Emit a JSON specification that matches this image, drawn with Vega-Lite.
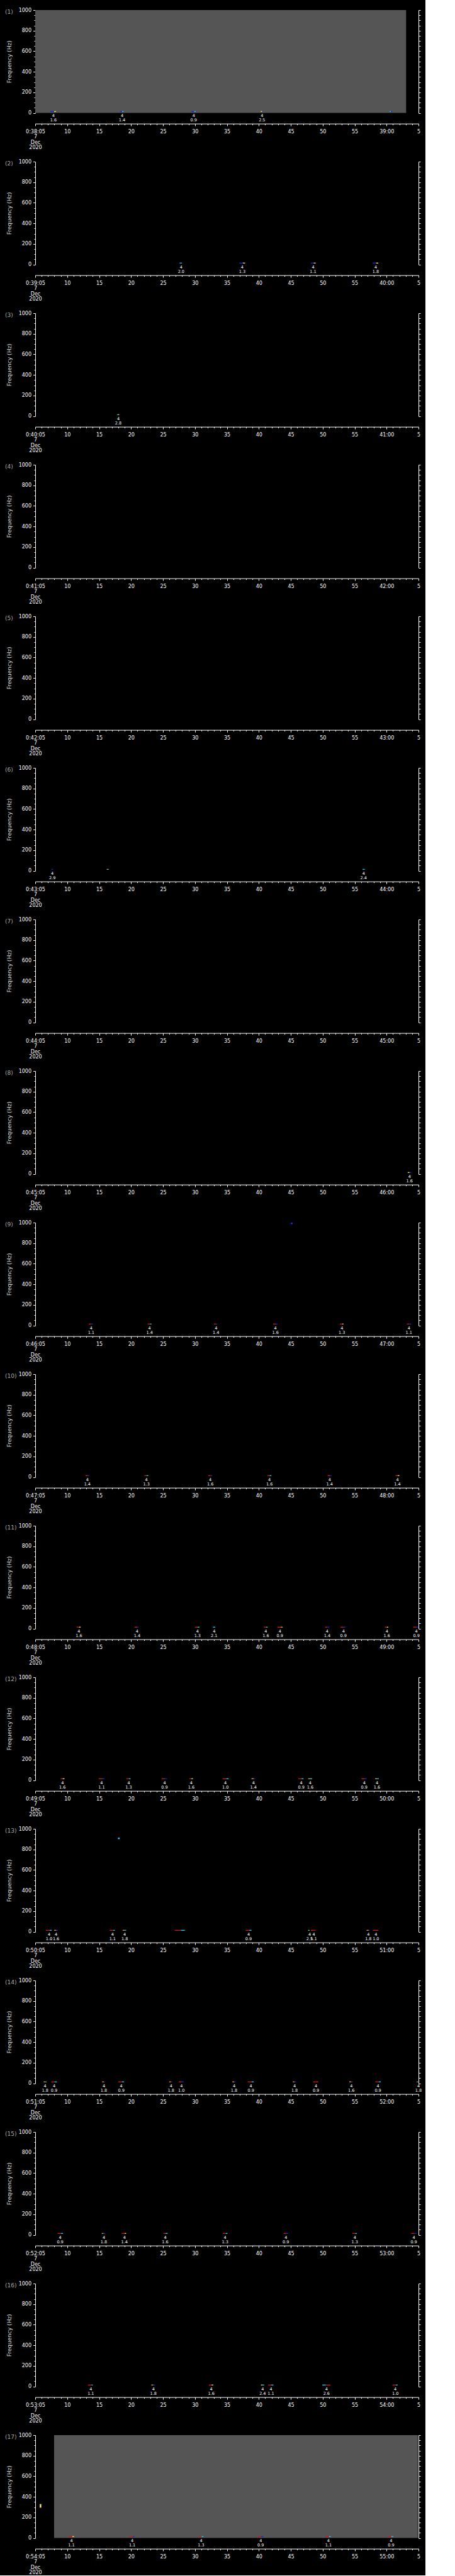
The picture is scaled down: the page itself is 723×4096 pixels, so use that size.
{
"$schema": "https://vega.github.io/schema/vega-lite/v6.json",
"background": "#000000",
"padding": {"left": 8, "top": 12, "right": 5, "bottom": 0},
"spacing": 77,
"bounds": "flush",
"datasets": {
"bg": [{"p":1,"s":5,"e":63.06},{"p":17,"s":7.95,"e":64.9}],
"spk": [{"p":9,"s":45.0,"e":45.3,"f0":985,"f1":1000,"a":"b"},{"p":13,"s":17.95,"e":18.2,"f0":900,"f1":915,"a":"c"},{"p":17,"s":5.7,"e":5.95,"f0":295,"f1":330,"a":"y"}],
"ev": [
{"p":1,"t":7.85,"s":7.36,"m":7.95,"e":8.26,"a":"b","b":"y","n":4,"v":1.6},
{"p":1,"t":18.6,"s":18.28,"m":18.6,"e":18.82,"a":"b","b":"c","n":4,"v":1.4},
{"p":1,"t":29.8,"s":29.47,"m":29.9,"e":30.1,"a":"b","b":"c","n":4,"v":0.9},
{"p":1,"t":40.5,"s":40.3,"m":40.55,"e":40.66,"a":"y","b":"b","n":4,"v":2.5},
{"p":1,"t":60.7,"s":60.5,"m":60.7,"e":60.9,"a":"c","b":"b","n":null,"v":null},
{"p":2,"t":27.84,"s":27.6,"m":27.8,"e":27.97,"a":"c","b":"c","n":4,"v":2.0},
{"p":2,"t":37.4,"s":36.94,"m":37.5,"e":37.85,"a":"b","b":"y","n":4,"v":1.3},
{"p":2,"t":48.5,"s":48.14,"m":48.6,"e":48.9,"a":"b","b":"y","n":4,"v":1.1},
{"p":2,"t":58.3,"s":57.79,"m":58.35,"e":58.7,"a":"b","b":"y","n":4,"v":1.8},
{"p":3,"t":18.0,"s":17.82,"m":18.0,"e":18.14,"a":"c","b":"y","n":4,"v":2.8},
{"p":6,"t":7.67,"s":7.54,"m":7.7,"e":7.81,"a":"b","b":"b","n":4,"v":2.9},
{"p":6,"t":16.35,"s":16.19,"m":16.35,"e":16.51,"a":"g","b":"c","n":null,"v":null},
{"p":6,"t":56.4,"s":56.25,"m":56.45,"e":56.6,"a":"c","b":"c","n":4,"v":2.4},
{"p":8,"t":63.6,"s":63.31,"m":63.6,"e":63.85,"a":"y","b":"b","n":4,"v":1.6},
{"p":9,"t":13.75,"s":13.38,"m":13.8,"e":14.02,"a":"r","b":"b","n":4,"v":1.1},
{"p":9,"t":22.9,"s":22.58,"m":22.95,"e":23.2,"a":"r","b":"c","n":4,"v":1.4},
{"p":9,"t":33.3,"s":32.96,"m":33.3,"e":33.5,"a":"r","b":"b","n":4,"v":1.4},
{"p":9,"t":42.6,"s":42.25,"m":42.65,"e":42.93,"a":"r","b":"b","n":4,"v":1.6},
{"p":9,"t":53.0,"s":52.71,"m":53.05,"e":53.26,"a":"r","b":"y","n":4,"v":1.3},
{"p":9,"t":63.5,"s":63.18,"m":63.55,"e":63.86,"a":"r","b":"b","n":4,"v":1.1},
{"p":10,"t":13.16,"s":12.86,"m":13.2,"e":13.44,"a":"r","b":"b","n":4,"v":1.4},
{"p":10,"t":22.4,"s":22.1,"m":22.45,"e":22.7,"a":"r","b":"c","n":4,"v":1.3},
{"p":10,"t":32.4,"s":32.1,"m":32.45,"e":32.7,"a":"r","b":"b","n":4,"v":1.6},
{"p":10,"t":41.66,"s":41.36,"m":41.7,"e":41.96,"a":"r","b":"c","n":4,"v":1.6},
{"p":10,"t":51.08,"s":50.78,"m":51.12,"e":51.38,"a":"r","b":"b","n":4,"v":1.4},
{"p":10,"t":61.7,"s":61.4,"m":61.75,"e":62.0,"a":"r","b":"y","n":4,"v":1.4},
{"p":11,"t":11.84,"s":11.48,"m":11.85,"e":12.11,"a":"r","b":"y","n":4,"v":1.6},
{"p":11,"t":20.95,"s":20.54,"m":20.95,"e":21.18,"a":"r","b":"b","n":4,"v":1.4},
{"p":11,"t":30.4,"s":30.01,"m":30.4,"e":30.69,"a":"r","b":"c","n":4,"v":1.3},
{"p":11,"t":33.0,"s":32.82,"m":33.0,"e":33.18,"a":"c","b":"c","n":4,"v":2.1},
{"p":11,"t":41.1,"s":40.8,"m":41.15,"e":41.38,"a":"r","b":"c","n":4,"v":1.6},
{"p":11,"t":43.3,"s":42.92,"m":43.4,"e":43.74,"a":"r","b":"o","n":4,"v":0.9},
{"p":11,"t":50.7,"s":50.4,"m":50.75,"e":51.04,"a":"r","b":"b","n":4,"v":1.4},
{"p":11,"t":53.25,"s":52.8,"m":53.3,"e":53.57,"a":"r","b":"b","n":4,"v":0.9},
{"p":11,"t":60.05,"s":59.73,"m":60.05,"e":60.27,"a":"r","b":"y","n":4,"v":1.6},
{"p":11,"t":64.67,"s":64.22,"m":64.7,"e":65.0,"a":"r","b":"b","n":4,"v":0.9},
{"p":12,"t":9.26,"s":8.99,"m":9.3,"e":9.58,"a":"r","b":"y","n":4,"v":1.6},
{"p":12,"t":15.38,"s":14.92,"m":15.5,"e":15.83,"a":"r","b":"b","n":4,"v":1.1},
{"p":12,"t":19.63,"s":19.27,"m":19.65,"e":19.91,"a":"r","b":"c","n":4,"v":1.3},
{"p":12,"t":25.25,"s":24.8,"m":25.3,"e":25.62,"a":"r","b":"b","n":4,"v":0.9},
{"p":12,"t":29.42,"s":29.15,"m":29.45,"e":29.69,"a":"r","b":"y","n":4,"v":1.6},
{"p":12,"t":34.77,"s":34.32,"m":34.9,"e":35.27,"a":"r","b":"c","n":4,"v":1.0},
{"p":12,"t":39.16,"s":38.85,"m":39.2,"e":39.44,"a":"o","b":"b","n":4,"v":1.4},
{"p":12,"t":46.64,"s":46.19,"m":46.7,"e":47.0,"a":"r","b":"c","n":4,"v":0.9},
{"p":12,"t":48.04,"s":47.73,"m":48.05,"e":48.36,"a":"o","b":"c","n":4,"v":1.6},
{"p":12,"t":56.5,"s":56.07,"m":56.6,"e":56.88,"a":"r","b":"b","n":4,"v":0.9},
{"p":12,"t":58.5,"s":58.2,"m":58.5,"e":58.78,"a":"o","b":"c","n":4,"v":1.6},
{"p":13,"t":7.17,"s":6.68,"m":7.25,"e":7.58,"a":"r","b":"c","n":4,"v":1.0},
{"p":13,"t":8.26,"s":7.95,"m":8.3,"e":8.53,"a":"o","b":"b","n":4,"v":1.6},
{"p":13,"t":17.1,"s":16.64,"m":17.2,"e":17.46,"a":"r","b":"c","n":4,"v":1.1},
{"p":13,"t":19.0,"s":18.68,"m":19.0,"e":19.23,"a":"o","b":"c","n":4,"v":1.8},
{"p":13,"t":27.6,"s":26.84,"m":27.8,"e":28.43,"a":"r","b":"c","n":null,"v":null},
{"p":13,"t":38.4,"s":37.94,"m":38.5,"e":38.85,"a":"r","b":"c","n":4,"v":0.9},
{"p":13,"t":47.95,"s":47.73,"m":47.85,"e":47.95,"a":"y","b":"c","n":4,"v":2.5},
{"p":13,"t":48.6,"s":48.14,"m":48.6,"e":48.9,"a":"r","b":"r","n":4,"v":1.1},
{"p":13,"t":57.15,"s":56.88,"m":57.2,"e":57.38,"a":"o","b":"b","n":4,"v":1.8},
{"p":13,"t":58.33,"s":57.88,"m":58.4,"e":58.7,"a":"r","b":"r","n":4,"v":1.0},
{"p":14,"t":6.54,"s":6.31,"m":6.6,"e":6.77,"a":"o","b":"c","n":4,"v":1.8},
{"p":14,"t":7.95,"s":7.49,"m":8.0,"e":8.4,"a":"r","b":"c","n":4,"v":0.9},
{"p":14,"t":15.74,"s":15.47,"m":15.75,"e":15.92,"a":"o","b":"b","n":4,"v":1.8},
{"p":14,"t":18.46,"s":18.0,"m":18.55,"e":18.91,"a":"r","b":"c","n":4,"v":0.9},
{"p":14,"t":26.25,"s":25.98,"m":26.25,"e":26.43,"a":"o","b":"b","n":4,"v":1.8},
{"p":14,"t":27.88,"s":27.47,"m":27.95,"e":28.24,"a":"r","b":"b","n":4,"v":1.0},
{"p":14,"t":36.13,"s":35.86,"m":36.15,"e":36.36,"a":"o","b":"b","n":4,"v":1.8},
{"p":14,"t":38.76,"s":38.26,"m":38.85,"e":39.21,"a":"r","b":"c","n":4,"v":0.9},
{"p":14,"t":45.6,"s":45.33,"m":45.6,"e":45.83,"a":"o","b":"b","n":4,"v":1.8},
{"p":14,"t":48.95,"s":48.5,"m":49.0,"e":49.31,"a":"r","b":"r","n":4,"v":0.9},
{"p":14,"t":54.48,"s":54.16,"m":54.5,"e":54.7,"a":"o","b":"b","n":4,"v":1.6},
{"p":14,"t":58.65,"s":58.24,"m":58.75,"e":59.1,"a":"r","b":"c","n":4,"v":0.9},
{"p":14,"t":65.0,"s":64.72,"m":64.9,"e":65.0,"a":"o","b":"b","n":4,"v":1.8},
{"p":15,"t":8.9,"s":8.49,"m":9.0,"e":9.35,"a":"r","b":"c","n":4,"v":0.9},
{"p":15,"t":15.74,"s":15.42,"m":15.7,"e":15.96,"a":"o","b":"b","n":4,"v":1.8},
{"p":15,"t":18.96,"s":18.55,"m":19.0,"e":19.23,"a":"r","b":"y","n":4,"v":1.4},
{"p":15,"t":25.34,"s":25.07,"m":25.4,"e":25.71,"a":"r","b":"c","n":4,"v":1.6},
{"p":15,"t":34.72,"s":34.36,"m":34.8,"e":35.09,"a":"r","b":"c","n":4,"v":1.3},
{"p":15,"t":44.24,"s":43.88,"m":44.3,"e":44.6,"a":"r","b":"b","n":4,"v":0.9},
{"p":15,"t":55.02,"s":54.66,"m":55.1,"e":55.34,"a":"r","b":"c","n":4,"v":1.3},
{"p":15,"t":64.27,"s":63.86,"m":64.35,"e":64.67,"a":"r","b":"b","n":4,"v":0.9},
{"p":16,"t":13.7,"s":13.25,"m":13.8,"e":14.02,"a":"r","b":"c","n":4,"v":1.1},
{"p":16,"t":23.5,"s":23.17,"m":23.5,"e":23.76,"a":"o","b":"b","n":4,"v":1.8},
{"p":16,"t":32.55,"s":32.19,"m":32.6,"e":32.87,"a":"r","b":"y","n":4,"v":1.6},
{"p":16,"t":40.6,"s":40.34,"m":40.6,"e":40.84,"a":"y","b":"c","n":4,"v":2.4},
{"p":16,"t":41.9,"s":41.47,"m":41.95,"e":42.29,"a":"r","b":"c","n":4,"v":1.1},
{"p":16,"t":50.6,"s":49.95,"m":50.5,"e":51.22,"a":"c","b":"r","n":4,"v":2.6},
{"p":16,"t":61.37,"s":60.91,"m":61.45,"e":61.73,"a":"r","b":"c","n":4,"v":1.0},
{"p":17,"t":10.66,"s":10.21,"m":10.8,"e":11.07,"a":"r","b":"y","n":4,"v":1.1},
{"p":17,"t":20.18,"s":19.77,"m":20.3,"e":20.54,"a":"r","b":"b","n":4,"v":1.1},
{"p":17,"t":30.96,"s":30.6,"m":31.05,"e":31.33,"a":"r","b":"c","n":4,"v":1.3},
{"p":17,"t":40.3,"s":39.8,"m":40.35,"e":40.7,"a":"r","b":"b","n":4,"v":0.9},
{"p":17,"t":50.9,"s":50.45,"m":51.0,"e":51.26,"a":"r","b":"c","n":4,"v":1.1},
{"p":17,"t":60.7,"s":60.19,"m":60.75,"e":61.05,"a":"r","b":"c","n":4,"v":0.9}
]
},
"vconcat": [
{"title": "(1)", "data": {"values": [{}]}, "resolve": {"axis": {"x": "independent", "y": "independent"}}, "layer": [
 {"mark": {"type": "rect", "opacity": 0}, "encoding": {"x": {"datum": 5, "type": "quantitative", "scale": {"domain": [5, 65], "nice": false, "zero": false}, "axis": {"title": null, "offset": 17, "tickCount": 60, "tickSize": {"condition": {"test": "datum.value%5==0", "value": 3.5}, "value": 2}, "labelOverlap": false, "labelFlush": false, "labelPadding": 5, "labelLineHeight": 8.5, "labelExpr": "datum.value==5?['0:38:05','7','Dec','2020']:datum.value==60?'39:00':datum.value==65?'5':datum.value%5==0?datum.label:''"}}, "x2": {"datum": 65}, "y": {"datum": 0, "type": "quantitative", "scale": {"domain": [0, 1000], "nice": false, "zero": false}, "axis": {"title": "Frequency (Hz)", "orient": "left", "tickCount": 20, "format": "d", "tickSize": {"condition": {"test": "datum.value%200==0", "value": 3.5}, "value": 2}, "labelExpr": "datum.value%200==0?datum.label:''", "labelOverlap": false, "labelPadding": 3, "titlePadding": 10}}, "y2": {"datum": 1000}}},
 {"mark": {"type": "rect", "opacity": 0}, "encoding": {"x": {"datum": 5, "type": "quantitative", "axis": null}, "x2": {"datum": 65}, "y": {"datum": 0, "type": "quantitative", "axis": {"title": null, "orient": "right", "tickCount": 20, "labels": false, "labelOpacity": 0, "labelExpr": "''", "tickSize": 3}}, "y2": {"datum": 1000}}},
 {"data": {"name": "bg"}, "transform": [{"filter": "datum.p==1"}], "mark": {"type": "rect", "color": "#555555"}, "encoding": {"x": {"field": "s", "type": "quantitative", "axis": null}, "x2": {"field": "e"}, "y": {"datum": 0, "type": "quantitative", "axis": null}, "y2": {"datum": 1000}}},
 {"data": {"name": "ev"}, "transform": [{"filter": "datum.p==1"}], "layer": [
  {"mark": "rect", "encoding": {"x": {"field": "s", "type": "quantitative", "axis": null}, "x2": {"field": "m"}, "y": {"datum": 10, "type": "quantitative", "axis": null}, "y2": {"datum": 18}, "color": {"field": "a", "type": "nominal", "scale": {"domain": ["b","c","y","r","g","o"], "range": ["#1428e6","#22ccff","#f5e642","#dc1414","#50e070","#f0a020"]}, "legend": null}}},
  {"mark": "rect", "encoding": {"x": {"field": "m", "type": "quantitative", "axis": null}, "x2": {"field": "e"}, "y": {"datum": 10, "type": "quantitative", "axis": null}, "y2": {"datum": 18}, "color": {"field": "b", "type": "nominal", "scale": {"domain": ["b","c","y","r","g","o"], "range": ["#1428e6","#22ccff","#f5e642","#dc1414","#50e070","#f0a020"]}, "legend": null}}},
  {"transform": [{"filter": "isValid(datum.n)"}], "mark": {"type": "text", "dy": 4.3}, "encoding": {"x": {"field": "t", "type": "quantitative", "axis": null}, "y": {"datum": 0, "type": "quantitative", "axis": null}, "text": {"field": "n", "type": "quantitative"}}},
  {"transform": [{"filter": "isValid(datum.v)"}], "mark": {"type": "text", "dy": 11}, "encoding": {"x": {"field": "t", "type": "quantitative", "axis": null}, "y": {"datum": 0, "type": "quantitative", "axis": null}, "text": {"field": "v", "type": "quantitative", "format": ".1f"}}}
 ]}
]},
{"title": "(2)", "data": {"values": [{}]}, "resolve": {"axis": {"x": "independent", "y": "independent"}}, "layer": [
 {"mark": {"type": "rect", "opacity": 0}, "encoding": {"x": {"datum": 5, "type": "quantitative", "scale": {"domain": [5, 65], "nice": false, "zero": false}, "axis": {"title": null, "offset": 17, "tickCount": 60, "tickSize": {"condition": {"test": "datum.value%5==0", "value": 3.5}, "value": 2}, "labelOverlap": false, "labelFlush": false, "labelPadding": 5, "labelLineHeight": 8.5, "labelExpr": "datum.value==5?['0:39:05','7','Dec','2020']:datum.value==60?'40:00':datum.value==65?'5':datum.value%5==0?datum.label:''"}}, "x2": {"datum": 65}, "y": {"datum": 0, "type": "quantitative", "scale": {"domain": [0, 1000], "nice": false, "zero": false}, "axis": {"title": "Frequency (Hz)", "orient": "left", "tickCount": 20, "format": "d", "tickSize": {"condition": {"test": "datum.value%200==0", "value": 3.5}, "value": 2}, "labelExpr": "datum.value%200==0?datum.label:''", "labelOverlap": false, "labelPadding": 3, "titlePadding": 10}}, "y2": {"datum": 1000}}},
 {"mark": {"type": "rect", "opacity": 0}, "encoding": {"x": {"datum": 5, "type": "quantitative", "axis": null}, "x2": {"datum": 65}, "y": {"datum": 0, "type": "quantitative", "axis": {"title": null, "orient": "right", "tickCount": 20, "labels": false, "labelOpacity": 0, "labelExpr": "''", "tickSize": 3}}, "y2": {"datum": 1000}}},
 {"data": {"name": "ev"}, "transform": [{"filter": "datum.p==2"}], "layer": [
  {"mark": "rect", "encoding": {"x": {"field": "s", "type": "quantitative", "axis": null}, "x2": {"field": "m"}, "y": {"datum": 10, "type": "quantitative", "axis": null}, "y2": {"datum": 18}, "color": {"field": "a", "type": "nominal", "scale": {"domain": ["b","c","y","r","g","o"], "range": ["#1428e6","#22ccff","#f5e642","#dc1414","#50e070","#f0a020"]}, "legend": null}}},
  {"mark": "rect", "encoding": {"x": {"field": "m", "type": "quantitative", "axis": null}, "x2": {"field": "e"}, "y": {"datum": 10, "type": "quantitative", "axis": null}, "y2": {"datum": 18}, "color": {"field": "b", "type": "nominal", "scale": {"domain": ["b","c","y","r","g","o"], "range": ["#1428e6","#22ccff","#f5e642","#dc1414","#50e070","#f0a020"]}, "legend": null}}},
  {"transform": [{"filter": "isValid(datum.n)"}], "mark": {"type": "text", "dy": 4.3}, "encoding": {"x": {"field": "t", "type": "quantitative", "axis": null}, "y": {"datum": 0, "type": "quantitative", "axis": null}, "text": {"field": "n", "type": "quantitative"}}},
  {"transform": [{"filter": "isValid(datum.v)"}], "mark": {"type": "text", "dy": 11}, "encoding": {"x": {"field": "t", "type": "quantitative", "axis": null}, "y": {"datum": 0, "type": "quantitative", "axis": null}, "text": {"field": "v", "type": "quantitative", "format": ".1f"}}}
 ]}
]},
{"title": "(3)", "data": {"values": [{}]}, "resolve": {"axis": {"x": "independent", "y": "independent"}}, "layer": [
 {"mark": {"type": "rect", "opacity": 0}, "encoding": {"x": {"datum": 5, "type": "quantitative", "scale": {"domain": [5, 65], "nice": false, "zero": false}, "axis": {"title": null, "offset": 17, "tickCount": 60, "tickSize": {"condition": {"test": "datum.value%5==0", "value": 3.5}, "value": 2}, "labelOverlap": false, "labelFlush": false, "labelPadding": 5, "labelLineHeight": 8.5, "labelExpr": "datum.value==5?['0:40:05','7','Dec','2020']:datum.value==60?'41:00':datum.value==65?'5':datum.value%5==0?datum.label:''"}}, "x2": {"datum": 65}, "y": {"datum": 0, "type": "quantitative", "scale": {"domain": [0, 1000], "nice": false, "zero": false}, "axis": {"title": "Frequency (Hz)", "orient": "left", "tickCount": 20, "format": "d", "tickSize": {"condition": {"test": "datum.value%200==0", "value": 3.5}, "value": 2}, "labelExpr": "datum.value%200==0?datum.label:''", "labelOverlap": false, "labelPadding": 3, "titlePadding": 10}}, "y2": {"datum": 1000}}},
 {"mark": {"type": "rect", "opacity": 0}, "encoding": {"x": {"datum": 5, "type": "quantitative", "axis": null}, "x2": {"datum": 65}, "y": {"datum": 0, "type": "quantitative", "axis": {"title": null, "orient": "right", "tickCount": 20, "labels": false, "labelOpacity": 0, "labelExpr": "''", "tickSize": 3}}, "y2": {"datum": 1000}}},
 {"data": {"name": "ev"}, "transform": [{"filter": "datum.p==3"}], "layer": [
  {"mark": "rect", "encoding": {"x": {"field": "s", "type": "quantitative", "axis": null}, "x2": {"field": "m"}, "y": {"datum": 10, "type": "quantitative", "axis": null}, "y2": {"datum": 18}, "color": {"field": "a", "type": "nominal", "scale": {"domain": ["b","c","y","r","g","o"], "range": ["#1428e6","#22ccff","#f5e642","#dc1414","#50e070","#f0a020"]}, "legend": null}}},
  {"mark": "rect", "encoding": {"x": {"field": "m", "type": "quantitative", "axis": null}, "x2": {"field": "e"}, "y": {"datum": 10, "type": "quantitative", "axis": null}, "y2": {"datum": 18}, "color": {"field": "b", "type": "nominal", "scale": {"domain": ["b","c","y","r","g","o"], "range": ["#1428e6","#22ccff","#f5e642","#dc1414","#50e070","#f0a020"]}, "legend": null}}},
  {"transform": [{"filter": "isValid(datum.n)"}], "mark": {"type": "text", "dy": 4.3}, "encoding": {"x": {"field": "t", "type": "quantitative", "axis": null}, "y": {"datum": 0, "type": "quantitative", "axis": null}, "text": {"field": "n", "type": "quantitative"}}},
  {"transform": [{"filter": "isValid(datum.v)"}], "mark": {"type": "text", "dy": 11}, "encoding": {"x": {"field": "t", "type": "quantitative", "axis": null}, "y": {"datum": 0, "type": "quantitative", "axis": null}, "text": {"field": "v", "type": "quantitative", "format": ".1f"}}}
 ]}
]},
{"title": "(4)", "data": {"values": [{}]}, "resolve": {"axis": {"x": "independent", "y": "independent"}}, "layer": [
 {"mark": {"type": "rect", "opacity": 0}, "encoding": {"x": {"datum": 5, "type": "quantitative", "scale": {"domain": [5, 65], "nice": false, "zero": false}, "axis": {"title": null, "offset": 17, "tickCount": 60, "tickSize": {"condition": {"test": "datum.value%5==0", "value": 3.5}, "value": 2}, "labelOverlap": false, "labelFlush": false, "labelPadding": 5, "labelLineHeight": 8.5, "labelExpr": "datum.value==5?['0:41:05','7','Dec','2020']:datum.value==60?'42:00':datum.value==65?'5':datum.value%5==0?datum.label:''"}}, "x2": {"datum": 65}, "y": {"datum": 0, "type": "quantitative", "scale": {"domain": [0, 1000], "nice": false, "zero": false}, "axis": {"title": "Frequency (Hz)", "orient": "left", "tickCount": 20, "format": "d", "tickSize": {"condition": {"test": "datum.value%200==0", "value": 3.5}, "value": 2}, "labelExpr": "datum.value%200==0?datum.label:''", "labelOverlap": false, "labelPadding": 3, "titlePadding": 10}}, "y2": {"datum": 1000}}},
 {"mark": {"type": "rect", "opacity": 0}, "encoding": {"x": {"datum": 5, "type": "quantitative", "axis": null}, "x2": {"datum": 65}, "y": {"datum": 0, "type": "quantitative", "axis": {"title": null, "orient": "right", "tickCount": 20, "labels": false, "labelOpacity": 0, "labelExpr": "''", "tickSize": 3}}, "y2": {"datum": 1000}}}
]},
{"title": "(5)", "data": {"values": [{}]}, "resolve": {"axis": {"x": "independent", "y": "independent"}}, "layer": [
 {"mark": {"type": "rect", "opacity": 0}, "encoding": {"x": {"datum": 5, "type": "quantitative", "scale": {"domain": [5, 65], "nice": false, "zero": false}, "axis": {"title": null, "offset": 17, "tickCount": 60, "tickSize": {"condition": {"test": "datum.value%5==0", "value": 3.5}, "value": 2}, "labelOverlap": false, "labelFlush": false, "labelPadding": 5, "labelLineHeight": 8.5, "labelExpr": "datum.value==5?['0:42:05','7','Dec','2020']:datum.value==60?'43:00':datum.value==65?'5':datum.value%5==0?datum.label:''"}}, "x2": {"datum": 65}, "y": {"datum": 0, "type": "quantitative", "scale": {"domain": [0, 1000], "nice": false, "zero": false}, "axis": {"title": "Frequency (Hz)", "orient": "left", "tickCount": 20, "format": "d", "tickSize": {"condition": {"test": "datum.value%200==0", "value": 3.5}, "value": 2}, "labelExpr": "datum.value%200==0?datum.label:''", "labelOverlap": false, "labelPadding": 3, "titlePadding": 10}}, "y2": {"datum": 1000}}},
 {"mark": {"type": "rect", "opacity": 0}, "encoding": {"x": {"datum": 5, "type": "quantitative", "axis": null}, "x2": {"datum": 65}, "y": {"datum": 0, "type": "quantitative", "axis": {"title": null, "orient": "right", "tickCount": 20, "labels": false, "labelOpacity": 0, "labelExpr": "''", "tickSize": 3}}, "y2": {"datum": 1000}}}
]},
{"title": "(6)", "data": {"values": [{}]}, "resolve": {"axis": {"x": "independent", "y": "independent"}}, "layer": [
 {"mark": {"type": "rect", "opacity": 0}, "encoding": {"x": {"datum": 5, "type": "quantitative", "scale": {"domain": [5, 65], "nice": false, "zero": false}, "axis": {"title": null, "offset": 17, "tickCount": 60, "tickSize": {"condition": {"test": "datum.value%5==0", "value": 3.5}, "value": 2}, "labelOverlap": false, "labelFlush": false, "labelPadding": 5, "labelLineHeight": 8.5, "labelExpr": "datum.value==5?['0:43:05','7','Dec','2020']:datum.value==60?'44:00':datum.value==65?'5':datum.value%5==0?datum.label:''"}}, "x2": {"datum": 65}, "y": {"datum": 0, "type": "quantitative", "scale": {"domain": [0, 1000], "nice": false, "zero": false}, "axis": {"title": "Frequency (Hz)", "orient": "left", "tickCount": 20, "format": "d", "tickSize": {"condition": {"test": "datum.value%200==0", "value": 3.5}, "value": 2}, "labelExpr": "datum.value%200==0?datum.label:''", "labelOverlap": false, "labelPadding": 3, "titlePadding": 10}}, "y2": {"datum": 1000}}},
 {"mark": {"type": "rect", "opacity": 0}, "encoding": {"x": {"datum": 5, "type": "quantitative", "axis": null}, "x2": {"datum": 65}, "y": {"datum": 0, "type": "quantitative", "axis": {"title": null, "orient": "right", "tickCount": 20, "labels": false, "labelOpacity": 0, "labelExpr": "''", "tickSize": 3}}, "y2": {"datum": 1000}}},
 {"data": {"name": "ev"}, "transform": [{"filter": "datum.p==6"}], "layer": [
  {"mark": "rect", "encoding": {"x": {"field": "s", "type": "quantitative", "axis": null}, "x2": {"field": "m"}, "y": {"datum": 10, "type": "quantitative", "axis": null}, "y2": {"datum": 18}, "color": {"field": "a", "type": "nominal", "scale": {"domain": ["b","c","y","r","g","o"], "range": ["#1428e6","#22ccff","#f5e642","#dc1414","#50e070","#f0a020"]}, "legend": null}}},
  {"mark": "rect", "encoding": {"x": {"field": "m", "type": "quantitative", "axis": null}, "x2": {"field": "e"}, "y": {"datum": 10, "type": "quantitative", "axis": null}, "y2": {"datum": 18}, "color": {"field": "b", "type": "nominal", "scale": {"domain": ["b","c","y","r","g","o"], "range": ["#1428e6","#22ccff","#f5e642","#dc1414","#50e070","#f0a020"]}, "legend": null}}},
  {"transform": [{"filter": "isValid(datum.n)"}], "mark": {"type": "text", "dy": 4.3}, "encoding": {"x": {"field": "t", "type": "quantitative", "axis": null}, "y": {"datum": 0, "type": "quantitative", "axis": null}, "text": {"field": "n", "type": "quantitative"}}},
  {"transform": [{"filter": "isValid(datum.v)"}], "mark": {"type": "text", "dy": 11}, "encoding": {"x": {"field": "t", "type": "quantitative", "axis": null}, "y": {"datum": 0, "type": "quantitative", "axis": null}, "text": {"field": "v", "type": "quantitative", "format": ".1f"}}}
 ]}
]},
{"title": "(7)", "data": {"values": [{}]}, "resolve": {"axis": {"x": "independent", "y": "independent"}}, "layer": [
 {"mark": {"type": "rect", "opacity": 0}, "encoding": {"x": {"datum": 5, "type": "quantitative", "scale": {"domain": [5, 65], "nice": false, "zero": false}, "axis": {"title": null, "offset": 17, "tickCount": 60, "tickSize": {"condition": {"test": "datum.value%5==0", "value": 3.5}, "value": 2}, "labelOverlap": false, "labelFlush": false, "labelPadding": 5, "labelLineHeight": 8.5, "labelExpr": "datum.value==5?['0:44:05','7','Dec','2020']:datum.value==60?'45:00':datum.value==65?'5':datum.value%5==0?datum.label:''"}}, "x2": {"datum": 65}, "y": {"datum": 0, "type": "quantitative", "scale": {"domain": [0, 1000], "nice": false, "zero": false}, "axis": {"title": "Frequency (Hz)", "orient": "left", "tickCount": 20, "format": "d", "tickSize": {"condition": {"test": "datum.value%200==0", "value": 3.5}, "value": 2}, "labelExpr": "datum.value%200==0?datum.label:''", "labelOverlap": false, "labelPadding": 3, "titlePadding": 10}}, "y2": {"datum": 1000}}},
 {"mark": {"type": "rect", "opacity": 0}, "encoding": {"x": {"datum": 5, "type": "quantitative", "axis": null}, "x2": {"datum": 65}, "y": {"datum": 0, "type": "quantitative", "axis": {"title": null, "orient": "right", "tickCount": 20, "labels": false, "labelOpacity": 0, "labelExpr": "''", "tickSize": 3}}, "y2": {"datum": 1000}}}
]},
{"title": "(8)", "data": {"values": [{}]}, "resolve": {"axis": {"x": "independent", "y": "independent"}}, "layer": [
 {"mark": {"type": "rect", "opacity": 0}, "encoding": {"x": {"datum": 5, "type": "quantitative", "scale": {"domain": [5, 65], "nice": false, "zero": false}, "axis": {"title": null, "offset": 17, "tickCount": 60, "tickSize": {"condition": {"test": "datum.value%5==0", "value": 3.5}, "value": 2}, "labelOverlap": false, "labelFlush": false, "labelPadding": 5, "labelLineHeight": 8.5, "labelExpr": "datum.value==5?['0:45:05','7','Dec','2020']:datum.value==60?'46:00':datum.value==65?'5':datum.value%5==0?datum.label:''"}}, "x2": {"datum": 65}, "y": {"datum": 0, "type": "quantitative", "scale": {"domain": [0, 1000], "nice": false, "zero": false}, "axis": {"title": "Frequency (Hz)", "orient": "left", "tickCount": 20, "format": "d", "tickSize": {"condition": {"test": "datum.value%200==0", "value": 3.5}, "value": 2}, "labelExpr": "datum.value%200==0?datum.label:''", "labelOverlap": false, "labelPadding": 3, "titlePadding": 10}}, "y2": {"datum": 1000}}},
 {"mark": {"type": "rect", "opacity": 0}, "encoding": {"x": {"datum": 5, "type": "quantitative", "axis": null}, "x2": {"datum": 65}, "y": {"datum": 0, "type": "quantitative", "axis": {"title": null, "orient": "right", "tickCount": 20, "labels": false, "labelOpacity": 0, "labelExpr": "''", "tickSize": 3}}, "y2": {"datum": 1000}}},
 {"data": {"name": "ev"}, "transform": [{"filter": "datum.p==8"}], "layer": [
  {"mark": "rect", "encoding": {"x": {"field": "s", "type": "quantitative", "axis": null}, "x2": {"field": "m"}, "y": {"datum": 10, "type": "quantitative", "axis": null}, "y2": {"datum": 18}, "color": {"field": "a", "type": "nominal", "scale": {"domain": ["b","c","y","r","g","o"], "range": ["#1428e6","#22ccff","#f5e642","#dc1414","#50e070","#f0a020"]}, "legend": null}}},
  {"mark": "rect", "encoding": {"x": {"field": "m", "type": "quantitative", "axis": null}, "x2": {"field": "e"}, "y": {"datum": 10, "type": "quantitative", "axis": null}, "y2": {"datum": 18}, "color": {"field": "b", "type": "nominal", "scale": {"domain": ["b","c","y","r","g","o"], "range": ["#1428e6","#22ccff","#f5e642","#dc1414","#50e070","#f0a020"]}, "legend": null}}},
  {"transform": [{"filter": "isValid(datum.n)"}], "mark": {"type": "text", "dy": 4.3}, "encoding": {"x": {"field": "t", "type": "quantitative", "axis": null}, "y": {"datum": 0, "type": "quantitative", "axis": null}, "text": {"field": "n", "type": "quantitative"}}},
  {"transform": [{"filter": "isValid(datum.v)"}], "mark": {"type": "text", "dy": 11}, "encoding": {"x": {"field": "t", "type": "quantitative", "axis": null}, "y": {"datum": 0, "type": "quantitative", "axis": null}, "text": {"field": "v", "type": "quantitative", "format": ".1f"}}}
 ]}
]},
{"title": "(9)", "data": {"values": [{}]}, "resolve": {"axis": {"x": "independent", "y": "independent"}}, "layer": [
 {"mark": {"type": "rect", "opacity": 0}, "encoding": {"x": {"datum": 5, "type": "quantitative", "scale": {"domain": [5, 65], "nice": false, "zero": false}, "axis": {"title": null, "offset": 17, "tickCount": 60, "tickSize": {"condition": {"test": "datum.value%5==0", "value": 3.5}, "value": 2}, "labelOverlap": false, "labelFlush": false, "labelPadding": 5, "labelLineHeight": 8.5, "labelExpr": "datum.value==5?['0:46:05','7','Dec','2020']:datum.value==60?'47:00':datum.value==65?'5':datum.value%5==0?datum.label:''"}}, "x2": {"datum": 65}, "y": {"datum": 0, "type": "quantitative", "scale": {"domain": [0, 1000], "nice": false, "zero": false}, "axis": {"title": "Frequency (Hz)", "orient": "left", "tickCount": 20, "format": "d", "tickSize": {"condition": {"test": "datum.value%200==0", "value": 3.5}, "value": 2}, "labelExpr": "datum.value%200==0?datum.label:''", "labelOverlap": false, "labelPadding": 3, "titlePadding": 10}}, "y2": {"datum": 1000}}},
 {"mark": {"type": "rect", "opacity": 0}, "encoding": {"x": {"datum": 5, "type": "quantitative", "axis": null}, "x2": {"datum": 65}, "y": {"datum": 0, "type": "quantitative", "axis": {"title": null, "orient": "right", "tickCount": 20, "labels": false, "labelOpacity": 0, "labelExpr": "''", "tickSize": 3}}, "y2": {"datum": 1000}}},
 {"data": {"name": "spk"}, "transform": [{"filter": "datum.p==9"}], "mark": "rect", "encoding": {"x": {"field": "s", "type": "quantitative", "axis": null}, "x2": {"field": "e"}, "y": {"field": "f0", "type": "quantitative", "axis": null}, "y2": {"field": "f1"}, "color": {"field": "a", "type": "nominal", "scale": {"domain": ["b","c","y","r","g","o"], "range": ["#1428e6","#22ccff","#f5e642","#dc1414","#50e070","#f0a020"]}, "legend": null}}},
 {"data": {"name": "ev"}, "transform": [{"filter": "datum.p==9"}], "layer": [
  {"mark": "rect", "encoding": {"x": {"field": "s", "type": "quantitative", "axis": null}, "x2": {"field": "m"}, "y": {"datum": 10, "type": "quantitative", "axis": null}, "y2": {"datum": 18}, "color": {"field": "a", "type": "nominal", "scale": {"domain": ["b","c","y","r","g","o"], "range": ["#1428e6","#22ccff","#f5e642","#dc1414","#50e070","#f0a020"]}, "legend": null}}},
  {"mark": "rect", "encoding": {"x": {"field": "m", "type": "quantitative", "axis": null}, "x2": {"field": "e"}, "y": {"datum": 10, "type": "quantitative", "axis": null}, "y2": {"datum": 18}, "color": {"field": "b", "type": "nominal", "scale": {"domain": ["b","c","y","r","g","o"], "range": ["#1428e6","#22ccff","#f5e642","#dc1414","#50e070","#f0a020"]}, "legend": null}}},
  {"transform": [{"filter": "isValid(datum.n)"}], "mark": {"type": "text", "dy": 4.3}, "encoding": {"x": {"field": "t", "type": "quantitative", "axis": null}, "y": {"datum": 0, "type": "quantitative", "axis": null}, "text": {"field": "n", "type": "quantitative"}}},
  {"transform": [{"filter": "isValid(datum.v)"}], "mark": {"type": "text", "dy": 11}, "encoding": {"x": {"field": "t", "type": "quantitative", "axis": null}, "y": {"datum": 0, "type": "quantitative", "axis": null}, "text": {"field": "v", "type": "quantitative", "format": ".1f"}}}
 ]}
]},
{"title": "(10)", "data": {"values": [{}]}, "resolve": {"axis": {"x": "independent", "y": "independent"}}, "layer": [
 {"mark": {"type": "rect", "opacity": 0}, "encoding": {"x": {"datum": 5, "type": "quantitative", "scale": {"domain": [5, 65], "nice": false, "zero": false}, "axis": {"title": null, "offset": 17, "tickCount": 60, "tickSize": {"condition": {"test": "datum.value%5==0", "value": 3.5}, "value": 2}, "labelOverlap": false, "labelFlush": false, "labelPadding": 5, "labelLineHeight": 8.5, "labelExpr": "datum.value==5?['0:47:05','7','Dec','2020']:datum.value==60?'48:00':datum.value==65?'5':datum.value%5==0?datum.label:''"}}, "x2": {"datum": 65}, "y": {"datum": 0, "type": "quantitative", "scale": {"domain": [0, 1000], "nice": false, "zero": false}, "axis": {"title": "Frequency (Hz)", "orient": "left", "tickCount": 20, "format": "d", "tickSize": {"condition": {"test": "datum.value%200==0", "value": 3.5}, "value": 2}, "labelExpr": "datum.value%200==0?datum.label:''", "labelOverlap": false, "labelPadding": 3, "titlePadding": 10}}, "y2": {"datum": 1000}}},
 {"mark": {"type": "rect", "opacity": 0}, "encoding": {"x": {"datum": 5, "type": "quantitative", "axis": null}, "x2": {"datum": 65}, "y": {"datum": 0, "type": "quantitative", "axis": {"title": null, "orient": "right", "tickCount": 20, "labels": false, "labelOpacity": 0, "labelExpr": "''", "tickSize": 3}}, "y2": {"datum": 1000}}},
 {"data": {"name": "ev"}, "transform": [{"filter": "datum.p==10"}], "layer": [
  {"mark": "rect", "encoding": {"x": {"field": "s", "type": "quantitative", "axis": null}, "x2": {"field": "m"}, "y": {"datum": 10, "type": "quantitative", "axis": null}, "y2": {"datum": 18}, "color": {"field": "a", "type": "nominal", "scale": {"domain": ["b","c","y","r","g","o"], "range": ["#1428e6","#22ccff","#f5e642","#dc1414","#50e070","#f0a020"]}, "legend": null}}},
  {"mark": "rect", "encoding": {"x": {"field": "m", "type": "quantitative", "axis": null}, "x2": {"field": "e"}, "y": {"datum": 10, "type": "quantitative", "axis": null}, "y2": {"datum": 18}, "color": {"field": "b", "type": "nominal", "scale": {"domain": ["b","c","y","r","g","o"], "range": ["#1428e6","#22ccff","#f5e642","#dc1414","#50e070","#f0a020"]}, "legend": null}}},
  {"transform": [{"filter": "isValid(datum.n)"}], "mark": {"type": "text", "dy": 4.3}, "encoding": {"x": {"field": "t", "type": "quantitative", "axis": null}, "y": {"datum": 0, "type": "quantitative", "axis": null}, "text": {"field": "n", "type": "quantitative"}}},
  {"transform": [{"filter": "isValid(datum.v)"}], "mark": {"type": "text", "dy": 11}, "encoding": {"x": {"field": "t", "type": "quantitative", "axis": null}, "y": {"datum": 0, "type": "quantitative", "axis": null}, "text": {"field": "v", "type": "quantitative", "format": ".1f"}}}
 ]}
]},
{"title": "(11)", "data": {"values": [{}]}, "resolve": {"axis": {"x": "independent", "y": "independent"}}, "layer": [
 {"mark": {"type": "rect", "opacity": 0}, "encoding": {"x": {"datum": 5, "type": "quantitative", "scale": {"domain": [5, 65], "nice": false, "zero": false}, "axis": {"title": null, "offset": 17, "tickCount": 60, "tickSize": {"condition": {"test": "datum.value%5==0", "value": 3.5}, "value": 2}, "labelOverlap": false, "labelFlush": false, "labelPadding": 5, "labelLineHeight": 8.5, "labelExpr": "datum.value==5?['0:48:05','7','Dec','2020']:datum.value==60?'49:00':datum.value==65?'5':datum.value%5==0?datum.label:''"}}, "x2": {"datum": 65}, "y": {"datum": 0, "type": "quantitative", "scale": {"domain": [0, 1000], "nice": false, "zero": false}, "axis": {"title": "Frequency (Hz)", "orient": "left", "tickCount": 20, "format": "d", "tickSize": {"condition": {"test": "datum.value%200==0", "value": 3.5}, "value": 2}, "labelExpr": "datum.value%200==0?datum.label:''", "labelOverlap": false, "labelPadding": 3, "titlePadding": 10}}, "y2": {"datum": 1000}}},
 {"mark": {"type": "rect", "opacity": 0}, "encoding": {"x": {"datum": 5, "type": "quantitative", "axis": null}, "x2": {"datum": 65}, "y": {"datum": 0, "type": "quantitative", "axis": {"title": null, "orient": "right", "tickCount": 20, "labels": false, "labelOpacity": 0, "labelExpr": "''", "tickSize": 3}}, "y2": {"datum": 1000}}},
 {"data": {"name": "ev"}, "transform": [{"filter": "datum.p==11"}], "layer": [
  {"mark": "rect", "encoding": {"x": {"field": "s", "type": "quantitative", "axis": null}, "x2": {"field": "m"}, "y": {"datum": 10, "type": "quantitative", "axis": null}, "y2": {"datum": 18}, "color": {"field": "a", "type": "nominal", "scale": {"domain": ["b","c","y","r","g","o"], "range": ["#1428e6","#22ccff","#f5e642","#dc1414","#50e070","#f0a020"]}, "legend": null}}},
  {"mark": "rect", "encoding": {"x": {"field": "m", "type": "quantitative", "axis": null}, "x2": {"field": "e"}, "y": {"datum": 10, "type": "quantitative", "axis": null}, "y2": {"datum": 18}, "color": {"field": "b", "type": "nominal", "scale": {"domain": ["b","c","y","r","g","o"], "range": ["#1428e6","#22ccff","#f5e642","#dc1414","#50e070","#f0a020"]}, "legend": null}}},
  {"transform": [{"filter": "isValid(datum.n)"}], "mark": {"type": "text", "dy": 4.3}, "encoding": {"x": {"field": "t", "type": "quantitative", "axis": null}, "y": {"datum": 0, "type": "quantitative", "axis": null}, "text": {"field": "n", "type": "quantitative"}}},
  {"transform": [{"filter": "isValid(datum.v)"}], "mark": {"type": "text", "dy": 11}, "encoding": {"x": {"field": "t", "type": "quantitative", "axis": null}, "y": {"datum": 0, "type": "quantitative", "axis": null}, "text": {"field": "v", "type": "quantitative", "format": ".1f"}}}
 ]}
]},
{"title": "(12)", "data": {"values": [{}]}, "resolve": {"axis": {"x": "independent", "y": "independent"}}, "layer": [
 {"mark": {"type": "rect", "opacity": 0}, "encoding": {"x": {"datum": 5, "type": "quantitative", "scale": {"domain": [5, 65], "nice": false, "zero": false}, "axis": {"title": null, "offset": 17, "tickCount": 60, "tickSize": {"condition": {"test": "datum.value%5==0", "value": 3.5}, "value": 2}, "labelOverlap": false, "labelFlush": false, "labelPadding": 5, "labelLineHeight": 8.5, "labelExpr": "datum.value==5?['0:49:05','7','Dec','2020']:datum.value==60?'50:00':datum.value==65?'5':datum.value%5==0?datum.label:''"}}, "x2": {"datum": 65}, "y": {"datum": 0, "type": "quantitative", "scale": {"domain": [0, 1000], "nice": false, "zero": false}, "axis": {"title": "Frequency (Hz)", "orient": "left", "tickCount": 20, "format": "d", "tickSize": {"condition": {"test": "datum.value%200==0", "value": 3.5}, "value": 2}, "labelExpr": "datum.value%200==0?datum.label:''", "labelOverlap": false, "labelPadding": 3, "titlePadding": 10}}, "y2": {"datum": 1000}}},
 {"mark": {"type": "rect", "opacity": 0}, "encoding": {"x": {"datum": 5, "type": "quantitative", "axis": null}, "x2": {"datum": 65}, "y": {"datum": 0, "type": "quantitative", "axis": {"title": null, "orient": "right", "tickCount": 20, "labels": false, "labelOpacity": 0, "labelExpr": "''", "tickSize": 3}}, "y2": {"datum": 1000}}},
 {"data": {"name": "ev"}, "transform": [{"filter": "datum.p==12"}], "layer": [
  {"mark": "rect", "encoding": {"x": {"field": "s", "type": "quantitative", "axis": null}, "x2": {"field": "m"}, "y": {"datum": 10, "type": "quantitative", "axis": null}, "y2": {"datum": 18}, "color": {"field": "a", "type": "nominal", "scale": {"domain": ["b","c","y","r","g","o"], "range": ["#1428e6","#22ccff","#f5e642","#dc1414","#50e070","#f0a020"]}, "legend": null}}},
  {"mark": "rect", "encoding": {"x": {"field": "m", "type": "quantitative", "axis": null}, "x2": {"field": "e"}, "y": {"datum": 10, "type": "quantitative", "axis": null}, "y2": {"datum": 18}, "color": {"field": "b", "type": "nominal", "scale": {"domain": ["b","c","y","r","g","o"], "range": ["#1428e6","#22ccff","#f5e642","#dc1414","#50e070","#f0a020"]}, "legend": null}}},
  {"transform": [{"filter": "isValid(datum.n)"}], "mark": {"type": "text", "dy": 4.3}, "encoding": {"x": {"field": "t", "type": "quantitative", "axis": null}, "y": {"datum": 0, "type": "quantitative", "axis": null}, "text": {"field": "n", "type": "quantitative"}}},
  {"transform": [{"filter": "isValid(datum.v)"}], "mark": {"type": "text", "dy": 11}, "encoding": {"x": {"field": "t", "type": "quantitative", "axis": null}, "y": {"datum": 0, "type": "quantitative", "axis": null}, "text": {"field": "v", "type": "quantitative", "format": ".1f"}}}
 ]}
]},
{"title": "(13)", "data": {"values": [{}]}, "resolve": {"axis": {"x": "independent", "y": "independent"}}, "layer": [
 {"mark": {"type": "rect", "opacity": 0}, "encoding": {"x": {"datum": 5, "type": "quantitative", "scale": {"domain": [5, 65], "nice": false, "zero": false}, "axis": {"title": null, "offset": 17, "tickCount": 60, "tickSize": {"condition": {"test": "datum.value%5==0", "value": 3.5}, "value": 2}, "labelOverlap": false, "labelFlush": false, "labelPadding": 5, "labelLineHeight": 8.5, "labelExpr": "datum.value==5?['0:50:05','7','Dec','2020']:datum.value==60?'51:00':datum.value==65?'5':datum.value%5==0?datum.label:''"}}, "x2": {"datum": 65}, "y": {"datum": 0, "type": "quantitative", "scale": {"domain": [0, 1000], "nice": false, "zero": false}, "axis": {"title": "Frequency (Hz)", "orient": "left", "tickCount": 20, "format": "d", "tickSize": {"condition": {"test": "datum.value%200==0", "value": 3.5}, "value": 2}, "labelExpr": "datum.value%200==0?datum.label:''", "labelOverlap": false, "labelPadding": 3, "titlePadding": 10}}, "y2": {"datum": 1000}}},
 {"mark": {"type": "rect", "opacity": 0}, "encoding": {"x": {"datum": 5, "type": "quantitative", "axis": null}, "x2": {"datum": 65}, "y": {"datum": 0, "type": "quantitative", "axis": {"title": null, "orient": "right", "tickCount": 20, "labels": false, "labelOpacity": 0, "labelExpr": "''", "tickSize": 3}}, "y2": {"datum": 1000}}},
 {"data": {"name": "spk"}, "transform": [{"filter": "datum.p==13"}], "mark": "rect", "encoding": {"x": {"field": "s", "type": "quantitative", "axis": null}, "x2": {"field": "e"}, "y": {"field": "f0", "type": "quantitative", "axis": null}, "y2": {"field": "f1"}, "color": {"field": "a", "type": "nominal", "scale": {"domain": ["b","c","y","r","g","o"], "range": ["#1428e6","#22ccff","#f5e642","#dc1414","#50e070","#f0a020"]}, "legend": null}}},
 {"data": {"name": "ev"}, "transform": [{"filter": "datum.p==13"}], "layer": [
  {"mark": "rect", "encoding": {"x": {"field": "s", "type": "quantitative", "axis": null}, "x2": {"field": "m"}, "y": {"datum": 10, "type": "quantitative", "axis": null}, "y2": {"datum": 18}, "color": {"field": "a", "type": "nominal", "scale": {"domain": ["b","c","y","r","g","o"], "range": ["#1428e6","#22ccff","#f5e642","#dc1414","#50e070","#f0a020"]}, "legend": null}}},
  {"mark": "rect", "encoding": {"x": {"field": "m", "type": "quantitative", "axis": null}, "x2": {"field": "e"}, "y": {"datum": 10, "type": "quantitative", "axis": null}, "y2": {"datum": 18}, "color": {"field": "b", "type": "nominal", "scale": {"domain": ["b","c","y","r","g","o"], "range": ["#1428e6","#22ccff","#f5e642","#dc1414","#50e070","#f0a020"]}, "legend": null}}},
  {"transform": [{"filter": "isValid(datum.n)"}], "mark": {"type": "text", "dy": 4.3}, "encoding": {"x": {"field": "t", "type": "quantitative", "axis": null}, "y": {"datum": 0, "type": "quantitative", "axis": null}, "text": {"field": "n", "type": "quantitative"}}},
  {"transform": [{"filter": "isValid(datum.v)"}], "mark": {"type": "text", "dy": 11}, "encoding": {"x": {"field": "t", "type": "quantitative", "axis": null}, "y": {"datum": 0, "type": "quantitative", "axis": null}, "text": {"field": "v", "type": "quantitative", "format": ".1f"}}}
 ]}
]},
{"title": "(14)", "data": {"values": [{}]}, "resolve": {"axis": {"x": "independent", "y": "independent"}}, "layer": [
 {"mark": {"type": "rect", "opacity": 0}, "encoding": {"x": {"datum": 5, "type": "quantitative", "scale": {"domain": [5, 65], "nice": false, "zero": false}, "axis": {"title": null, "offset": 17, "tickCount": 60, "tickSize": {"condition": {"test": "datum.value%5==0", "value": 3.5}, "value": 2}, "labelOverlap": false, "labelFlush": false, "labelPadding": 5, "labelLineHeight": 8.5, "labelExpr": "datum.value==5?['0:51:05','7','Dec','2020']:datum.value==60?'52:00':datum.value==65?'5':datum.value%5==0?datum.label:''"}}, "x2": {"datum": 65}, "y": {"datum": 0, "type": "quantitative", "scale": {"domain": [0, 1000], "nice": false, "zero": false}, "axis": {"title": "Frequency (Hz)", "orient": "left", "tickCount": 20, "format": "d", "tickSize": {"condition": {"test": "datum.value%200==0", "value": 3.5}, "value": 2}, "labelExpr": "datum.value%200==0?datum.label:''", "labelOverlap": false, "labelPadding": 3, "titlePadding": 10}}, "y2": {"datum": 1000}}},
 {"mark": {"type": "rect", "opacity": 0}, "encoding": {"x": {"datum": 5, "type": "quantitative", "axis": null}, "x2": {"datum": 65}, "y": {"datum": 0, "type": "quantitative", "axis": {"title": null, "orient": "right", "tickCount": 20, "labels": false, "labelOpacity": 0, "labelExpr": "''", "tickSize": 3}}, "y2": {"datum": 1000}}},
 {"data": {"name": "ev"}, "transform": [{"filter": "datum.p==14"}], "layer": [
  {"mark": "rect", "encoding": {"x": {"field": "s", "type": "quantitative", "axis": null}, "x2": {"field": "m"}, "y": {"datum": 10, "type": "quantitative", "axis": null}, "y2": {"datum": 18}, "color": {"field": "a", "type": "nominal", "scale": {"domain": ["b","c","y","r","g","o"], "range": ["#1428e6","#22ccff","#f5e642","#dc1414","#50e070","#f0a020"]}, "legend": null}}},
  {"mark": "rect", "encoding": {"x": {"field": "m", "type": "quantitative", "axis": null}, "x2": {"field": "e"}, "y": {"datum": 10, "type": "quantitative", "axis": null}, "y2": {"datum": 18}, "color": {"field": "b", "type": "nominal", "scale": {"domain": ["b","c","y","r","g","o"], "range": ["#1428e6","#22ccff","#f5e642","#dc1414","#50e070","#f0a020"]}, "legend": null}}},
  {"transform": [{"filter": "isValid(datum.n)"}], "mark": {"type": "text", "dy": 4.3}, "encoding": {"x": {"field": "t", "type": "quantitative", "axis": null}, "y": {"datum": 0, "type": "quantitative", "axis": null}, "text": {"field": "n", "type": "quantitative"}}},
  {"transform": [{"filter": "isValid(datum.v)"}], "mark": {"type": "text", "dy": 11}, "encoding": {"x": {"field": "t", "type": "quantitative", "axis": null}, "y": {"datum": 0, "type": "quantitative", "axis": null}, "text": {"field": "v", "type": "quantitative", "format": ".1f"}}}
 ]}
]},
{"title": "(15)", "data": {"values": [{}]}, "resolve": {"axis": {"x": "independent", "y": "independent"}}, "layer": [
 {"mark": {"type": "rect", "opacity": 0}, "encoding": {"x": {"datum": 5, "type": "quantitative", "scale": {"domain": [5, 65], "nice": false, "zero": false}, "axis": {"title": null, "offset": 17, "tickCount": 60, "tickSize": {"condition": {"test": "datum.value%5==0", "value": 3.5}, "value": 2}, "labelOverlap": false, "labelFlush": false, "labelPadding": 5, "labelLineHeight": 8.5, "labelExpr": "datum.value==5?['0:52:05','7','Dec','2020']:datum.value==60?'53:00':datum.value==65?'5':datum.value%5==0?datum.label:''"}}, "x2": {"datum": 65}, "y": {"datum": 0, "type": "quantitative", "scale": {"domain": [0, 1000], "nice": false, "zero": false}, "axis": {"title": "Frequency (Hz)", "orient": "left", "tickCount": 20, "format": "d", "tickSize": {"condition": {"test": "datum.value%200==0", "value": 3.5}, "value": 2}, "labelExpr": "datum.value%200==0?datum.label:''", "labelOverlap": false, "labelPadding": 3, "titlePadding": 10}}, "y2": {"datum": 1000}}},
 {"mark": {"type": "rect", "opacity": 0}, "encoding": {"x": {"datum": 5, "type": "quantitative", "axis": null}, "x2": {"datum": 65}, "y": {"datum": 0, "type": "quantitative", "axis": {"title": null, "orient": "right", "tickCount": 20, "labels": false, "labelOpacity": 0, "labelExpr": "''", "tickSize": 3}}, "y2": {"datum": 1000}}},
 {"data": {"name": "ev"}, "transform": [{"filter": "datum.p==15"}], "layer": [
  {"mark": "rect", "encoding": {"x": {"field": "s", "type": "quantitative", "axis": null}, "x2": {"field": "m"}, "y": {"datum": 10, "type": "quantitative", "axis": null}, "y2": {"datum": 18}, "color": {"field": "a", "type": "nominal", "scale": {"domain": ["b","c","y","r","g","o"], "range": ["#1428e6","#22ccff","#f5e642","#dc1414","#50e070","#f0a020"]}, "legend": null}}},
  {"mark": "rect", "encoding": {"x": {"field": "m", "type": "quantitative", "axis": null}, "x2": {"field": "e"}, "y": {"datum": 10, "type": "quantitative", "axis": null}, "y2": {"datum": 18}, "color": {"field": "b", "type": "nominal", "scale": {"domain": ["b","c","y","r","g","o"], "range": ["#1428e6","#22ccff","#f5e642","#dc1414","#50e070","#f0a020"]}, "legend": null}}},
  {"transform": [{"filter": "isValid(datum.n)"}], "mark": {"type": "text", "dy": 4.3}, "encoding": {"x": {"field": "t", "type": "quantitative", "axis": null}, "y": {"datum": 0, "type": "quantitative", "axis": null}, "text": {"field": "n", "type": "quantitative"}}},
  {"transform": [{"filter": "isValid(datum.v)"}], "mark": {"type": "text", "dy": 11}, "encoding": {"x": {"field": "t", "type": "quantitative", "axis": null}, "y": {"datum": 0, "type": "quantitative", "axis": null}, "text": {"field": "v", "type": "quantitative", "format": ".1f"}}}
 ]}
]},
{"title": "(16)", "data": {"values": [{}]}, "resolve": {"axis": {"x": "independent", "y": "independent"}}, "layer": [
 {"mark": {"type": "rect", "opacity": 0}, "encoding": {"x": {"datum": 5, "type": "quantitative", "scale": {"domain": [5, 65], "nice": false, "zero": false}, "axis": {"title": null, "offset": 17, "tickCount": 60, "tickSize": {"condition": {"test": "datum.value%5==0", "value": 3.5}, "value": 2}, "labelOverlap": false, "labelFlush": false, "labelPadding": 5, "labelLineHeight": 8.5, "labelExpr": "datum.value==5?['0:53:05','7','Dec','2020']:datum.value==60?'54:00':datum.value==65?'5':datum.value%5==0?datum.label:''"}}, "x2": {"datum": 65}, "y": {"datum": 0, "type": "quantitative", "scale": {"domain": [0, 1000], "nice": false, "zero": false}, "axis": {"title": "Frequency (Hz)", "orient": "left", "tickCount": 20, "format": "d", "tickSize": {"condition": {"test": "datum.value%200==0", "value": 3.5}, "value": 2}, "labelExpr": "datum.value%200==0?datum.label:''", "labelOverlap": false, "labelPadding": 3, "titlePadding": 10}}, "y2": {"datum": 1000}}},
 {"mark": {"type": "rect", "opacity": 0}, "encoding": {"x": {"datum": 5, "type": "quantitative", "axis": null}, "x2": {"datum": 65}, "y": {"datum": 0, "type": "quantitative", "axis": {"title": null, "orient": "right", "tickCount": 20, "labels": false, "labelOpacity": 0, "labelExpr": "''", "tickSize": 3}}, "y2": {"datum": 1000}}},
 {"data": {"name": "ev"}, "transform": [{"filter": "datum.p==16"}], "layer": [
  {"mark": "rect", "encoding": {"x": {"field": "s", "type": "quantitative", "axis": null}, "x2": {"field": "m"}, "y": {"datum": 10, "type": "quantitative", "axis": null}, "y2": {"datum": 18}, "color": {"field": "a", "type": "nominal", "scale": {"domain": ["b","c","y","r","g","o"], "range": ["#1428e6","#22ccff","#f5e642","#dc1414","#50e070","#f0a020"]}, "legend": null}}},
  {"mark": "rect", "encoding": {"x": {"field": "m", "type": "quantitative", "axis": null}, "x2": {"field": "e"}, "y": {"datum": 10, "type": "quantitative", "axis": null}, "y2": {"datum": 18}, "color": {"field": "b", "type": "nominal", "scale": {"domain": ["b","c","y","r","g","o"], "range": ["#1428e6","#22ccff","#f5e642","#dc1414","#50e070","#f0a020"]}, "legend": null}}},
  {"transform": [{"filter": "isValid(datum.n)"}], "mark": {"type": "text", "dy": 4.3}, "encoding": {"x": {"field": "t", "type": "quantitative", "axis": null}, "y": {"datum": 0, "type": "quantitative", "axis": null}, "text": {"field": "n", "type": "quantitative"}}},
  {"transform": [{"filter": "isValid(datum.v)"}], "mark": {"type": "text", "dy": 11}, "encoding": {"x": {"field": "t", "type": "quantitative", "axis": null}, "y": {"datum": 0, "type": "quantitative", "axis": null}, "text": {"field": "v", "type": "quantitative", "format": ".1f"}}}
 ]}
]},
{"title": "(17)", "data": {"values": [{}]}, "resolve": {"axis": {"x": "independent", "y": "independent"}}, "layer": [
 {"mark": {"type": "rect", "opacity": 0}, "encoding": {"x": {"datum": 5, "type": "quantitative", "scale": {"domain": [5, 65], "nice": false, "zero": false}, "axis": {"title": null, "offset": 17, "tickCount": 60, "tickSize": {"condition": {"test": "datum.value%5==0", "value": 3.5}, "value": 2}, "labelOverlap": false, "labelFlush": false, "labelPadding": 5, "labelLineHeight": 8.5, "labelExpr": "datum.value==5?['0:54:05','7','Dec','2020']:datum.value==60?'55:00':datum.value==65?'5':datum.value%5==0?datum.label:''"}}, "x2": {"datum": 65}, "y": {"datum": 0, "type": "quantitative", "scale": {"domain": [0, 1000], "nice": false, "zero": false}, "axis": {"title": "Frequency (Hz)", "orient": "left", "tickCount": 20, "format": "d", "tickSize": {"condition": {"test": "datum.value%200==0", "value": 3.5}, "value": 2}, "labelExpr": "datum.value%200==0?datum.label:''", "labelOverlap": false, "labelPadding": 3, "titlePadding": 10}}, "y2": {"datum": 1000}}},
 {"mark": {"type": "rect", "opacity": 0}, "encoding": {"x": {"datum": 5, "type": "quantitative", "axis": null}, "x2": {"datum": 65}, "y": {"datum": 0, "type": "quantitative", "axis": {"title": null, "orient": "right", "tickCount": 20, "labels": false, "labelOpacity": 0, "labelExpr": "''", "tickSize": 3}}, "y2": {"datum": 1000}}},
 {"data": {"name": "bg"}, "transform": [{"filter": "datum.p==17"}], "mark": {"type": "rect", "color": "#555555"}, "encoding": {"x": {"field": "s", "type": "quantitative", "axis": null}, "x2": {"field": "e"}, "y": {"datum": 0, "type": "quantitative", "axis": null}, "y2": {"datum": 1000}}},
 {"data": {"name": "spk"}, "transform": [{"filter": "datum.p==17"}], "mark": "rect", "encoding": {"x": {"field": "s", "type": "quantitative", "axis": null}, "x2": {"field": "e"}, "y": {"field": "f0", "type": "quantitative", "axis": null}, "y2": {"field": "f1"}, "color": {"field": "a", "type": "nominal", "scale": {"domain": ["b","c","y","r","g","o"], "range": ["#1428e6","#22ccff","#f5e642","#dc1414","#50e070","#f0a020"]}, "legend": null}}},
 {"data": {"name": "ev"}, "transform": [{"filter": "datum.p==17"}], "layer": [
  {"mark": "rect", "encoding": {"x": {"field": "s", "type": "quantitative", "axis": null}, "x2": {"field": "m"}, "y": {"datum": 10, "type": "quantitative", "axis": null}, "y2": {"datum": 18}, "color": {"field": "a", "type": "nominal", "scale": {"domain": ["b","c","y","r","g","o"], "range": ["#1428e6","#22ccff","#f5e642","#dc1414","#50e070","#f0a020"]}, "legend": null}}},
  {"mark": "rect", "encoding": {"x": {"field": "m", "type": "quantitative", "axis": null}, "x2": {"field": "e"}, "y": {"datum": 10, "type": "quantitative", "axis": null}, "y2": {"datum": 18}, "color": {"field": "b", "type": "nominal", "scale": {"domain": ["b","c","y","r","g","o"], "range": ["#1428e6","#22ccff","#f5e642","#dc1414","#50e070","#f0a020"]}, "legend": null}}},
  {"transform": [{"filter": "isValid(datum.n)"}], "mark": {"type": "text", "dy": 4.3}, "encoding": {"x": {"field": "t", "type": "quantitative", "axis": null}, "y": {"datum": 0, "type": "quantitative", "axis": null}, "text": {"field": "n", "type": "quantitative"}}},
  {"transform": [{"filter": "isValid(datum.v)"}], "mark": {"type": "text", "dy": 11}, "encoding": {"x": {"field": "t", "type": "quantitative", "axis": null}, "y": {"datum": 0, "type": "quantitative", "axis": null}, "text": {"field": "v", "type": "quantitative", "format": ".1f"}}}
 ]}
]}
],
"config": {
 "view": {"stroke": null, "continuousWidth": 609, "continuousHeight": 163.6},
 "axis": {"domainColor": "#ffffff", "tickColor": "#ffffff", "labelColor": "#ffffff", "labelFont": "DejaVu Sans", "labelFontSize": 8, "titleFont": "DejaVu Sans", "titleFontSize": 9, "titleFontWeight": "normal", "titleColor": "#dddddd", "grid": false, "zindex": 1},
 "title": {"color": "#aaaaaa", "font": "DejaVu Sans", "fontSize": 9, "fontWeight": "normal", "anchor": "start", "orient": "top", "offset": 0, "dx": -48, "dy": 16, "baseline": "middle", "frame": "group"},
 "text": {"font": "DejaVu Sans", "fontSize": 6.5, "color": "#ffffff", "baseline": "middle"}
}
}
